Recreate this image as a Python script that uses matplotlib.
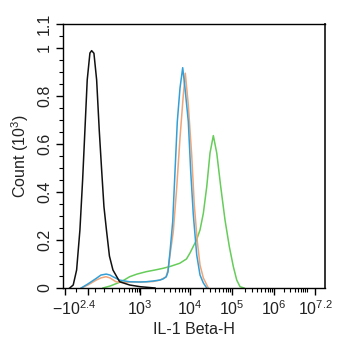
import numpy as np
import matplotlib
matplotlib.use("Agg")
import matplotlib.pyplot as plt
from matplotlib.ticker import MultipleLocator, FixedLocator
from matplotlib.transforms import ScaledTranslation

plt.rcParams['font.family'] = ['Liberation Sans', 'DejaVu Sans']
plt.rcParams['mathtext.fontset'] = 'custom'
plt.rcParams['mathtext.rm'] = 'Liberation Sans'
plt.rcParams['mathtext.it'] = 'Liberation Sans:italic'
plt.rcParams['mathtext.bf'] = 'Liberation Sans:bold'

# Fluorescence in signed log10 units (biexponential display), counts in thousands
black_x = [-1.9, -1.534, -1.18, -0.835, -0.554, -0.314, -0.074, 0.115, 0.213, 0.346, 0.502,
           0.652, 0.79, 0.923, 1.067, 1.24, 1.442, 1.829, 2.406, 3.0, 3.3]
black_y = [0.0, 0.0125, 0.075, 0.242, 0.45, 0.658, 0.867, 0.979, 0.989, 0.978, 0.867,
           0.658, 0.492, 0.339, 0.242, 0.133, 0.075, 0.026, 0.0125, 0.0055, 0.0]

blue_x = [-0.7, 0.0, 0.479, 0.75, 1.056, 1.269, 1.442, 1.829, 2.135, 2.406, 3.0, 3.126, 3.26,
          3.394, 3.46, 3.526, 3.56, 3.6, 3.654, 3.7, 3.746, 3.8, 3.854, 3.9, 3.966, 4.017,
          4.079, 4.16, 4.238, 4.317, 4.398]
blue_y = [0.0, 0.017, 0.04, 0.054, 0.058, 0.054, 0.047, 0.033, 0.029, 0.026, 0.025, 0.026, 0.029,
          0.033, 0.0375, 0.047, 0.067, 0.15, 0.276, 0.485, 0.693, 0.833, 0.918, 0.833, 0.693, 0.485,
          0.304, 0.1375, 0.054, 0.021, 0.0]

orange_x = [-0.7, 0.0, 0.479, 0.75, 1.038, 1.269, 1.615, 1.96, 2.406, 3.0, 3.26, 3.4, 3.52,
            3.56, 3.6, 3.666, 3.734, 3.8, 3.866, 3.906, 3.966, 4.04, 4.102, 4.174, 4.238,
            4.317, 4.436]
orange_y = [0.0, 0.0125, 0.033, 0.042, 0.047, 0.042, 0.026, 0.023, 0.025, 0.025, 0.027, 0.033, 0.046,
            0.075, 0.1375, 0.235, 0.417, 0.625, 0.804, 0.895, 0.7625, 0.554, 0.346, 0.193, 0.096,
            0.042, 0.0]

green_x = [0.866, 1.269, 1.73, 2.08, 2.406, 2.83, 3.126, 3.3, 3.46, 3.6, 3.794, 3.93, 4.0,
           4.071, 4.155, 4.238, 4.317, 4.398, 4.476, 4.555, 4.636, 4.731, 4.833, 4.936, 5.031,
           5.112, 5.19, 5.286]
green_y = [0.0, 0.008, 0.021, 0.033, 0.047, 0.058, 0.068, 0.075, 0.082, 0.0896, 0.103, 0.121, 0.146,
           0.171, 0.2, 0.242, 0.311, 0.422, 0.5625, 0.635, 0.5625, 0.422, 0.283, 0.172, 0.089,
           0.033, 0.0055, 0.0]

x_ticks = [-2.4, 0, 3, 4, 5, 6, 7.2]
x_ticklabels = [r'$\mathregular{-10^{2.4}}$', '', r'$\mathregular{10^{3}}$', r'$\mathregular{10^{4}}$',
                r'$\mathregular{10^{5}}$', r'$\mathregular{10^{6}}$', r'$\mathregular{10^{7.2}}$']
y_ticks = [0, 0.2, 0.4, 0.6, 0.8, 1.0, 1.1]
y_ticklabels = ['0', '0.2', '0.4', '0.6', '0.8', '1', '1.1']

# Display scale: piecewise mapping of signed decades to screen position
scale_t = [-4.0, -2.4, 0.0, 3.0, 4.0, 5.0, 6.0, 7.2, 9.0]
scale_p = [49.7, 65.0, 88.0, 140.0, 190.0, 232.0, 274.0, 315.0, 376.4]


def fwd(t):
    return np.interp(t, scale_t, scale_p)


def inv(p):
    return np.interp(p, scale_p, scale_t)


fig = plt.figure(figsize=(3.42, 3.50), dpi=100)
ax = fig.add_axes([63 / 342, 62 / 350, 262 / 342, 264 / 350])
ax.set_xscale('function', functions=(fwd, inv))

ax.plot(green_x, green_y, color='#66cc5a', lw=1.1)
ax.plot(orange_x, orange_y, color='#eea57a', lw=1.1)
ax.plot(blue_x, blue_y, color='#349fd6', lw=1.1)
ax.plot(black_x, black_y, color='#111111', lw=1.1)

ax.set_xlim(-2.6, 7.49)
ax.set_ylim(0, 1.1)

ax.xaxis.set_major_locator(FixedLocator(x_ticks))
ax.set_xticklabels(x_ticklabels)
minor_x = [-1.2, 0.4, 0.9, 1.4, 1.8, 2.1, 2.35, 2.55, 2.7, 2.82, 2.92]
for k in range(3, 7):
    for m in range(2, 10):
        minor_x.append(k + np.log10(m))
ax.xaxis.set_minor_locator(FixedLocator(minor_x))

ax.yaxis.set_major_locator(FixedLocator(y_ticks))
ax.set_yticklabels(y_ticklabels)
ax.yaxis.set_minor_locator(MultipleLocator(0.05))

ax.tick_params(axis='both', which='major', direction='out', length=5, width=1, labelsize=11.5,
               labelcolor='#222222')
ax.tick_params(axis='both', which='minor', direction='out', length=3, width=0.8)
ax.tick_params(axis='y', which='major', labelrotation=90, pad=3)
ax.tick_params(axis='x', which='major', pad=3)
for lab in ax.get_yticklabels():
    lab.set_va('center')

first = ax.get_xticklabels()[0]
first.set_transform(first.get_transform() + ScaledTranslation(9 / 100, 0, fig.dpi_scale_trans))

for side in ['left', 'bottom', 'top']:
    ax.spines[side].set_linewidth(1.0)
ax.spines['right'].set_linewidth(1.4)
ax.spines['right'].set_color('#333333')

ax.set_xlabel('IL-1 Beta-H', fontsize=11.5, color='#222222', labelpad=3)
ax.set_ylabel(r'Count ($\mathregular{10^3}$)', fontsize=11.5, color='#222222', labelpad=4)

fig.savefig('out.png', dpi=100)
